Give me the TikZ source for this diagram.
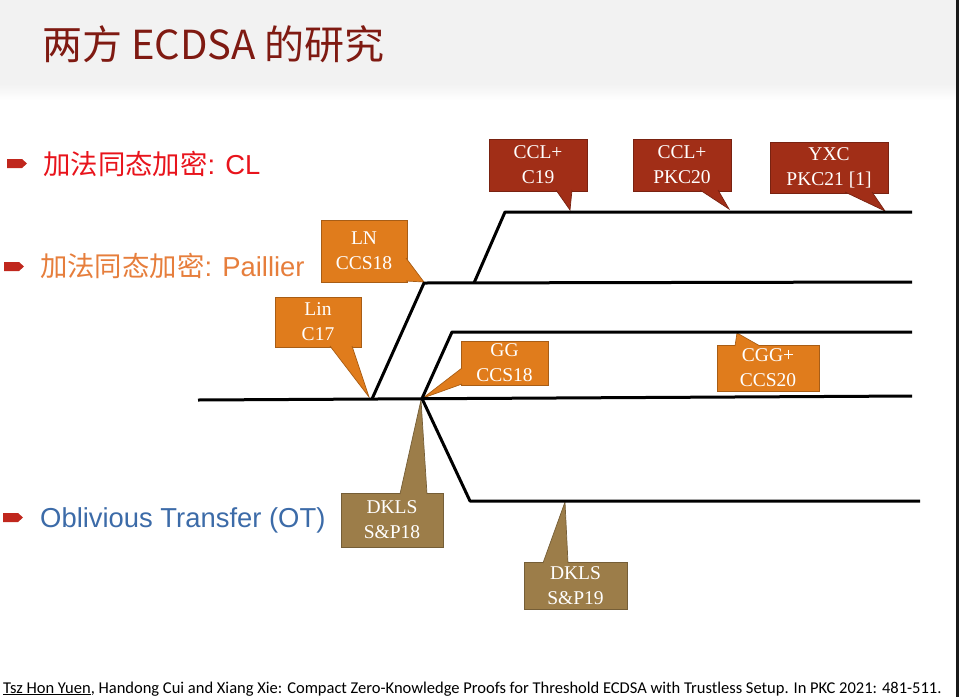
\documentclass[tikz,border=0pt]{standalone}
\usepackage{fontspec}
\setmainfont{Liberation Serif}
\newfontfamily\cjk{Noto Sans CJK SC}
\newfontfamily\arialf{Liberation Sans}
\newfontfamily\calib{Carlito}
\usetikzlibrary{calc}

\definecolor{titlered}{HTML}{7F1A12}
\definecolor{titlegray}{HTML}{F2F2F2}
\definecolor{clred}{HTML}{E8141C}
\definecolor{palorange}{HTML}{E67E3C}
\definecolor{otblue}{HTML}{3C6BA8}
\definecolor{bulletred}{HTML}{C0271D}
\definecolor{boxred}{HTML}{A12E17}
\definecolor{boxorange}{HTML}{E07C1C}
\definecolor{boxolive}{HTML}{9C7D49}

% wedge of a speech bubble: colour, base point, tip, base point
\newcommand\bubbletail[4]{%
  \fill[#1] #2 -- #3 -- #4 -- cycle;
  \draw[#1!75!black, line width=0.7pt] #2 -- #3 -- #4;}

\begin{document}
\begin{tikzpicture}[x=1pt, y=-1pt,
  bubble/.style={fill=#1, draw=#1!75!black, line width=0.7pt, text=white,
    align=center, inner sep=0pt,
    font=\fontsize{19.5}{25}\selectfont},
  track/.style={line width=3pt, line join=round},
  bullettext/.style={anchor=base west, inner sep=0pt,
    font=\arialf\fontsize{27.4}{31}\selectfont},
  bulletmark/.style={fill=bulletred}]
\useasboundingbox (0,0) rectangle (959,697);

% title bar
\fill[titlegray] (0,0) rectangle (956,84);
\shade[top color=titlegray, bottom color=white] (0,84) rectangle (956,100);
\fill[black!90] (956,0) rectangle (959,697);
\node[anchor=base west, inner sep=0pt, text=titlered,
  font=\cjk\fontsize{40}{44}\selectfont] (title) at (42,59) {两方 ECDSA 的研究};

% bullets
\fill[bulletmark] (7,159) -- (22,159) -- (27,163.5) -- (22,168) -- (7,168) -- cycle;
\node[bullettext, text=clred] (cl) at (43,174) {{\cjk 加法同态加密}: CL};
\fill[bulletmark] (4,262) -- (19,262) -- (24,266.5) -- (19,271) -- (4,271) -- cycle;
\node[bullettext, text=palorange] (pail) at (40,276) {{\cjk 加法同态加密}: Paillier};
\fill[bulletmark] (3,513) -- (18,513) -- (23,517.5) -- (18,522) -- (3,522) -- cycle;
\node[bullettext, text=otblue] (ot) at (40,527) {Oblivious Transfer (OT)};

% track points
\coordinate (m0) at (198,400);
\coordinate (m1) at (912,396);
\coordinate (jA) at (372,399);
\coordinate (pA) at (424,283);
\coordinate (pE) at (912,282);
\coordinate (jB) at (474,283);
\coordinate (cA) at (505,212);
\coordinate (cE) at (912,212);
\coordinate (jC) at (422,398.5);
\coordinate (gA) at (452,332);
\coordinate (gE) at (912,332);
\coordinate (dA) at (470,501);
\coordinate (dE) at (920,501);

% callout tips
\coordinate (tC19) at (570,210);
\coordinate (tPKC20) at (729,209);
\coordinate (tYXC) at (885,211);
\coordinate (tLN) at (424,282);
\coordinate (tLin) at (369,397);
\coordinate (tGG) at (423,398);
\coordinate (tCGG) at (737,333);
\coordinate (tDK18) at (421,400);
\coordinate (tDK19) at (565,502);

% CL callouts
\node[bubble=boxred, minimum width=98, minimum height=52] (c19) at (538,165) {CCL+\\C19};
\bubbletail{boxred}{(556,190)}{(tC19)}{(572,190)}
\node[bubble=boxred, minimum width=98, minimum height=52] (pkc20) at (682,165) {CCL+\\PKC20};
\bubbletail{boxred}{(700,190)}{(tPKC20)}{(718,190)}
\node[bubble=boxred, minimum width=118, minimum height=51] (yxc) at (829,167.5) {YXC\\PKC21 [1]};
\bubbletail{boxred}{(845,192)}{(tYXC)}{(872,192)}

% Paillier callouts
\node[bubble=boxorange, minimum width=86, minimum height=62] (ln) at (364,251) {LN\\CCS18};
\bubbletail{boxorange}{(406,258)}{(tLN)}{(406,281)}
\node[bubble=boxorange, minimum width=86, minimum height=50] (lin) at (318,322) {Lin\\C17};
\bubbletail{boxorange}{(330,346)}{(tLin)}{(352,346)}
\node[bubble=boxorange, minimum width=87, minimum height=44] (gg) at (504.5,363) {GG\\CCS18};
\bubbletail{boxorange}{(462,368)}{(tGG)}{(462,384)}
\node[bubble=boxorange, minimum width=102, minimum height=46] (cgg) at (768,368) {CGG+\\CCS20};
\bubbletail{boxorange}{(735,346)}{(tCGG)}{(760,346)}

% OT callouts
\node[bubble=boxolive, minimum width=102, minimum height=54] (dk18) at (392,520) {DKLS\\S\&P18};
\bubbletail{boxolive}{(400,494)}{(tDK18)}{(427,494)}
\node[bubble=boxolive, minimum width=103, minimum height=47] (dk19) at (575.5,585.5) {DKLS\\S\&P19};
\bubbletail{boxolive}{(543,563)}{(tDK19)}{(568,563)}

% tracks
\draw[track] (m0) -- (m1);
\draw[track] (jA) -- (pA) -- (pE);
\draw[track] (jB) -- (cA) -- (cE);
\draw[track] (jC) -- (gA) -- (gE);
\draw[track] (jC) -- (dA) -- (dE);

% reference line
\node[anchor=base west, inner sep=0pt, font=\calib\fontsize{16.5}{18}\selectfont] (ref) at (3,693)
  {\underline{Tsz Hon Yuen}, Handong Cui and Xiang Xie: Compact Zero-Knowledge Proofs for Threshold ECDSA with Trustless Setup. In PKC 2021: 481-511.};
\end{tikzpicture}
\end{document}
